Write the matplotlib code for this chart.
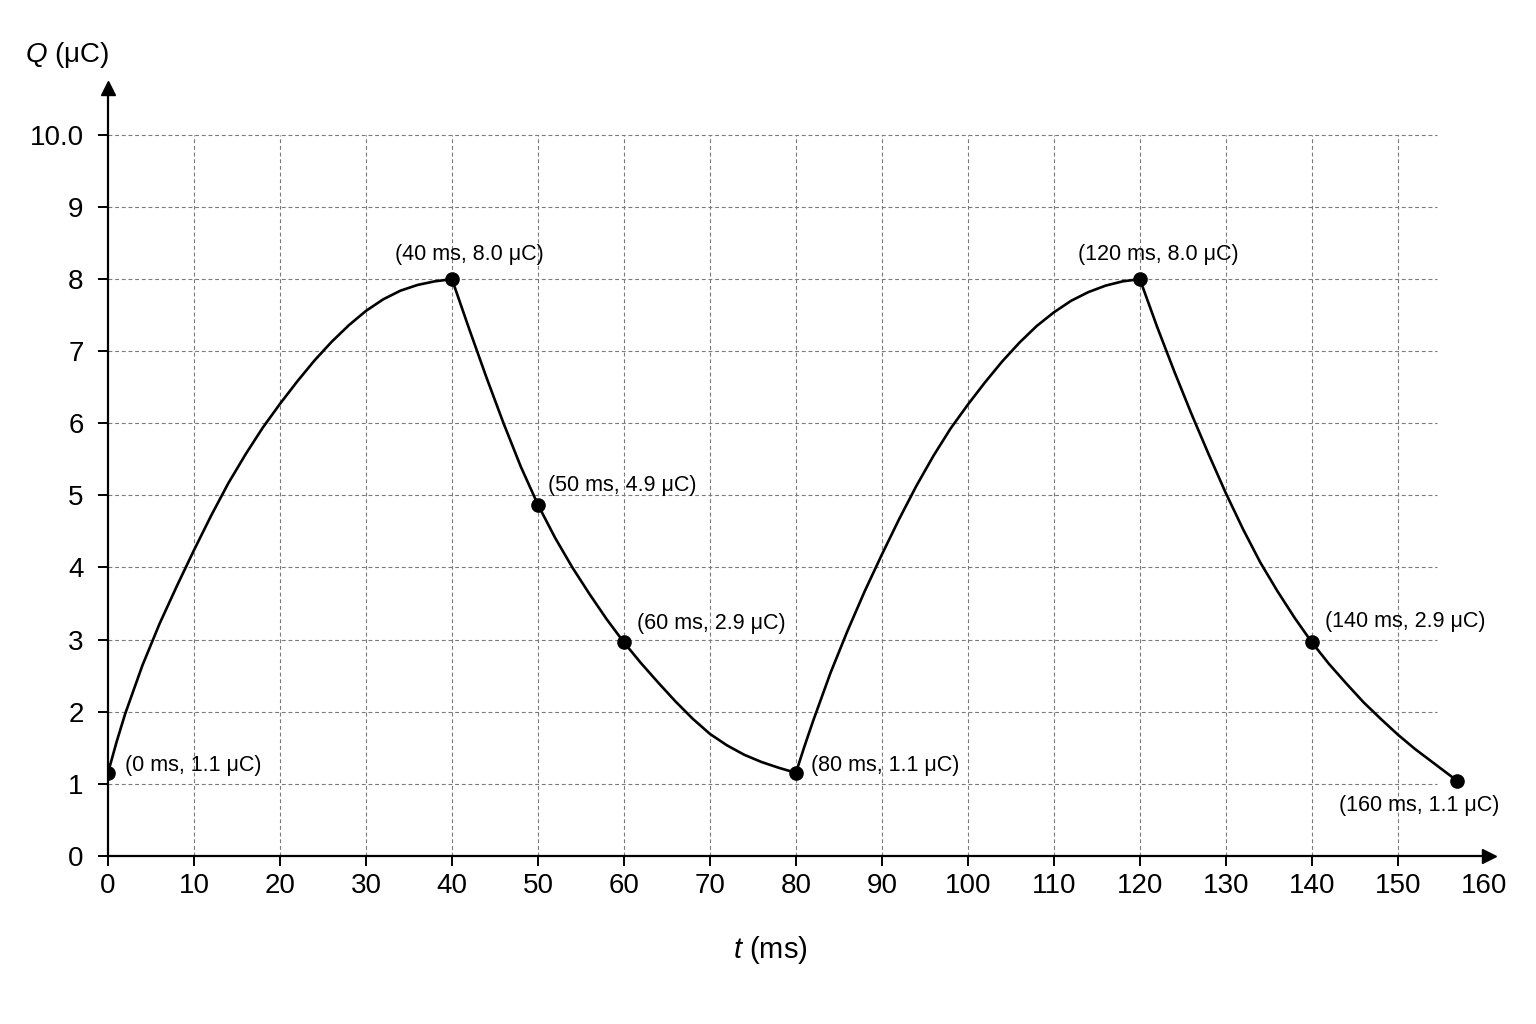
import numpy as np
import matplotlib
matplotlib.use("Agg")
import matplotlib.pyplot as plt

plt.rcParams['font.family'] = ['Liberation Sans', 'DejaVu Sans']
plt.rcParams['mathtext.fontset'] = 'custom'
plt.rcParams['mathtext.it'] = 'Liberation Sans:italic'
plt.rcParams['mathtext.rm'] = 'Liberation Sans'

# curve, t in ms, Q in uC
t_charge1 = [0, 1, 2, 4, 6, 8, 10, 12, 14, 16, 18, 20, 22, 24, 26, 28, 30, 32, 34, 36, 38, 40]
q_charge1 = [1.15, 1.58, 1.97, 2.64, 3.22, 3.74, 4.24, 4.72, 5.17, 5.57, 5.94, 6.27, 6.58, 6.87,
             7.13, 7.36, 7.56, 7.72, 7.84, 7.92, 7.97, 8.00]

t_dis1 = [40, 42, 44, 46, 48, 50, 52, 54, 56, 58, 60, 62, 64, 66, 68, 70, 72, 74, 76, 78, 80]
q_dis1 = [8.00, 7.31, 6.64, 6.00, 5.40, 4.87, 4.41, 4.00, 3.63, 3.28, 2.96, 2.67, 2.40, 2.14,
          1.90, 1.69, 1.53, 1.40, 1.30, 1.22, 1.15]

t_charge2 = [80, 81, 82, 84, 86, 88, 90, 92, 94, 96, 98, 100, 102, 104, 106, 108, 110, 112, 114,
             116, 118, 120]
q_charge2 = [1.15, 1.52, 1.87, 2.53, 3.12, 3.67, 4.18, 4.67, 5.13, 5.55, 5.93, 6.26, 6.57, 6.86,
             7.12, 7.35, 7.54, 7.70, 7.82, 7.91, 7.97, 8.00]

t_dis2 = [120, 122, 124, 126, 128, 130, 132, 134, 136, 138, 140, 142, 144, 146, 148, 150, 152,
          154, 156, 156.9]
q_dis2 = [8.00, 7.34, 6.72, 6.13, 5.57, 5.03, 4.53, 4.07, 3.67, 3.30, 2.96, 2.66, 2.39, 2.13,
          1.90, 1.68, 1.48, 1.30, 1.12, 1.04]

# marked points and their labels
t_pts = [0, 40, 50, 60, 80, 120, 140, 156.9]
q_pts = [1.15, 8.0, 4.87, 2.96, 1.15, 8.0, 2.96, 1.04]
pt_labels = ['(0 ms, 1.1 \u03bcC)', '(40 ms, 8.0 \u03bcC)', '(50 ms, 4.9 \u03bcC)', '(60 ms, 2.9 \u03bcC)',
             '(80 ms, 1.1 \u03bcC)', '(120 ms, 8.0 \u03bcC)', '(140 ms, 2.9 \u03bcC)', '(160 ms, 1.1 \u03bcC)']

x_ticks = [0, 10, 20, 30, 40, 50, 60, 70, 80, 90, 100, 110, 120, 130, 140, 150, 160]
y_ticks = [0, 1, 2, 3, 4, 5, 6, 7, 8, 9, 10]
y_ticklabels = ['0', '1', '2', '3', '4', '5', '6', '7', '8', '9', '10.0']

fig = plt.figure(figsize=(15.36, 10.24), dpi=100)
ax = fig.add_axes([108/1536, (1024-855.7)/1024, 1381/1536, 767.5/1024])
ax.set_xlim(0, 160.6)
ax.set_ylim(0, 10.65)

# dashed grid, only inside 0..154.5 x 0..10
grid_kw = dict(colors='#7a7a7a', linewidth=0.8, linestyles=(0, (3.5, 2.5)), zorder=1)
ax.hlines(y_ticks[1:], 0, 154.5, **grid_kw)
ax.vlines(x_ticks[1:-1], 0, 10, **grid_kw)

for tt, qq in [(t_charge1, q_charge1), (t_dis1, q_dis1), (t_charge2, q_charge2), (t_dis2, q_dis2)]:
    ax.plot(tt, qq, color='black', lw=1.9, zorder=3, solid_capstyle='round', solid_joinstyle='round')

ax.plot(t_pts, q_pts, 'o', color='black', markersize=9.5, zorder=4)

offsets = [(17, 7, 'left'), (17, 25, 'center'), (10, 19, 'left'), (13, 19, 'left'),
           (15, 7, 'left'), (18, 25, 'center'), (13, 21, 'left'), (-38, -25, 'center')]
for tp, qp, lab, (dx, dy, ha) in zip(t_pts, q_pts, pt_labels, offsets):
    ax.annotate(lab, (tp, qp), xytext=(dx, dy), textcoords='offset pixels',
                ha=ha, va='center', fontsize=15.5)

for s in ['top', 'right']:
    ax.spines[s].set_visible(False)
for s in ['left', 'bottom']:
    ax.spines[s].set_linewidth(1.6)

# arrow heads on the axes
ax.plot(1, 0, '>', color='black', markersize=9.5, transform=ax.transAxes, clip_on=False)
ax.plot(0, 1, '^', color='black', markersize=9.5, transform=ax.transAxes, clip_on=False)

ax.set_xticks(x_ticks)
ax.set_xticklabels([str(v) for v in x_ticks])
ax.set_yticks(y_ticks)
ax.set_yticklabels(y_ticklabels)
ax.tick_params(axis='both', direction='out', length=7.5, width=1.4, labelsize=20)
ax.tick_params(axis='x', pad=5)
ax.tick_params(axis='y', pad=10)
ax.xaxis.get_major_ticks()[-1].tick1line.set_visible(False)

fig.text(25/1536, 1 - 55/1024, '$Q$ (\u03bcC)', fontsize=20, ha='left', va='center')
fig.text(770/1536, 1 - 950/1024, '$t$ (ms)', fontsize=21, ha='center', va='center')

fig.savefig('out.png', dpi=100, facecolor='white')
